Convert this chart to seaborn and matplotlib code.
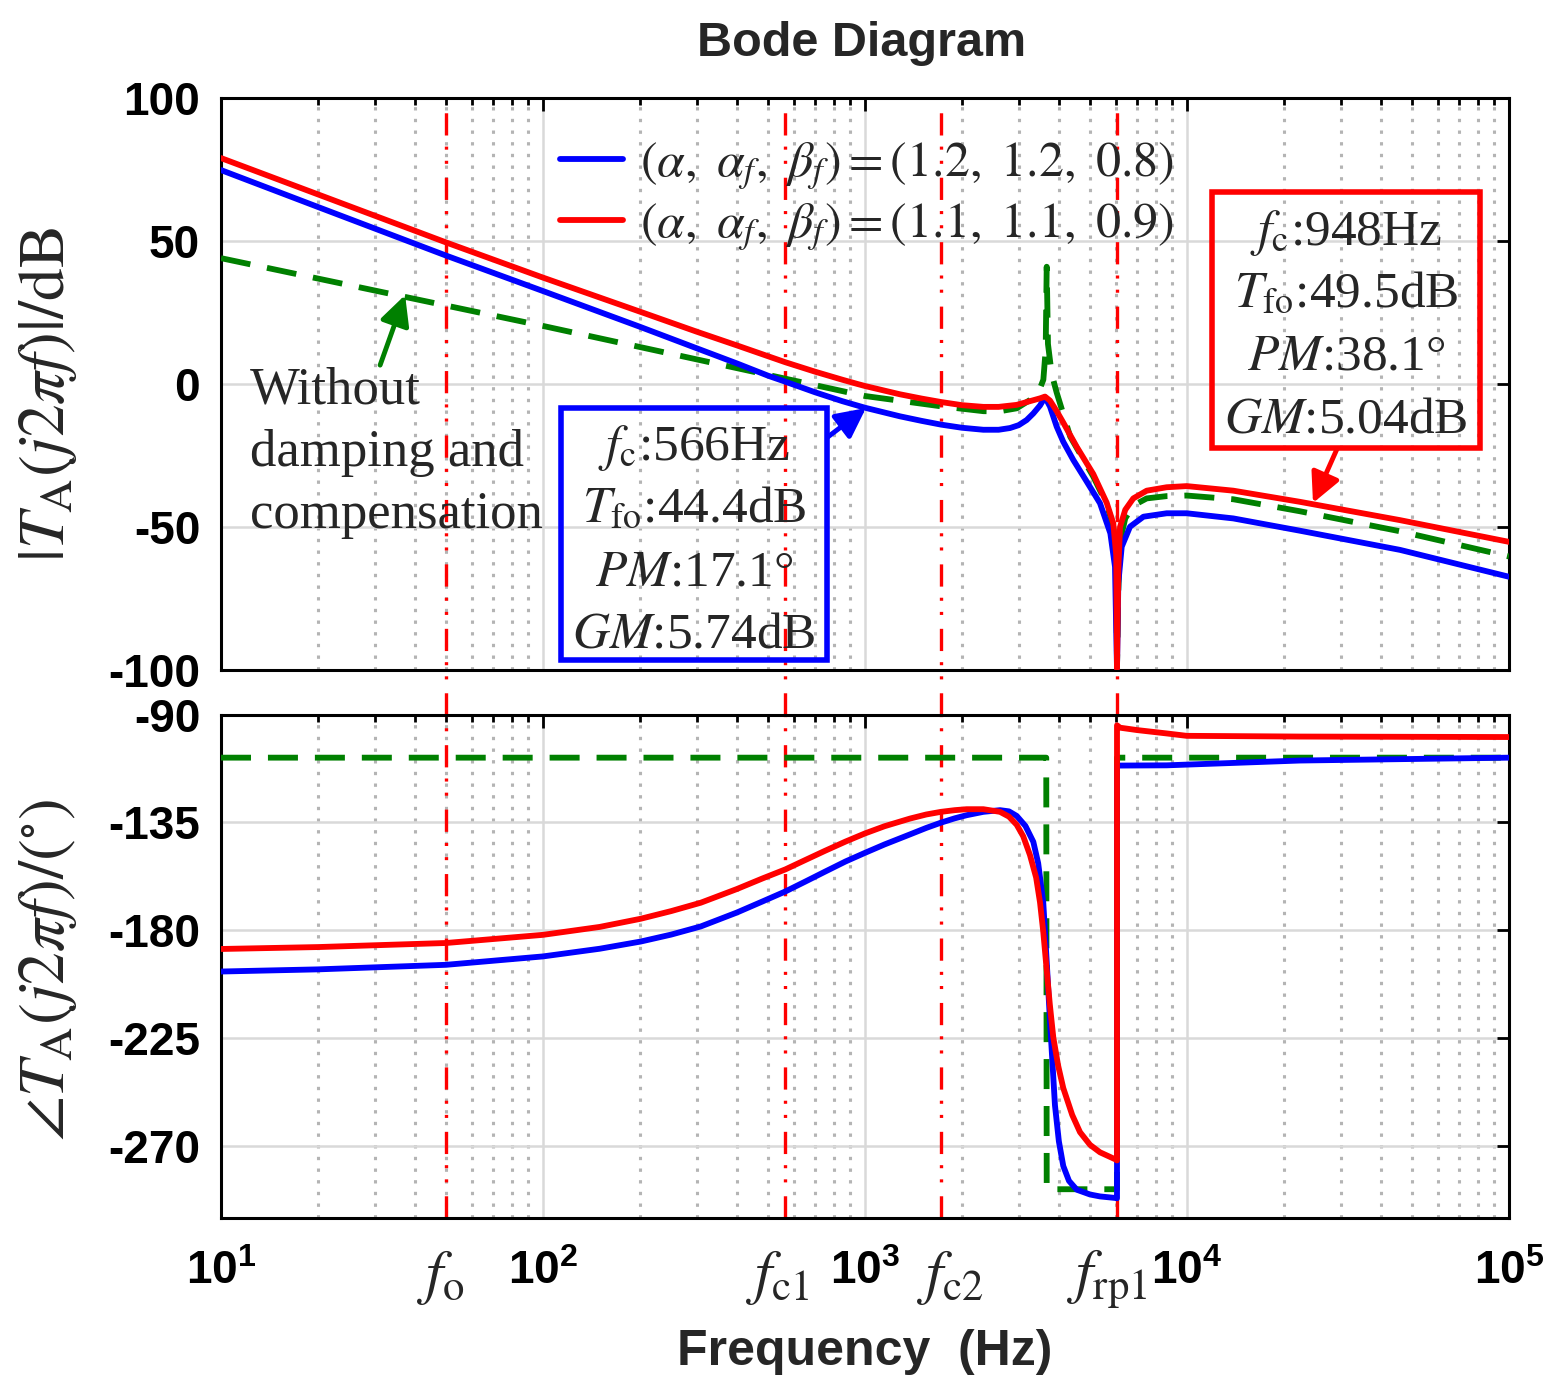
import numpy as np
import pandas as pd
import matplotlib
matplotlib.use("Agg")
import matplotlib.pyplot as plt
import matplotlib.ticker as mticker
from matplotlib.patches import Rectangle
import seaborn as sns

# ── data ────────────────────────────────────────────────────────
# magnitude |T_A(j2πf)| in dB
f_blue_mag = [10, 20, 50, 100, 200, 300, 400, 500, 566, 700, 850, 1000, 1284, 1500,
              1722, 2000, 2331, 2600, 2820, 3000, 3177, 3332, 3496, 3622, 3754, 3938,
              4128, 4437, 4850, 5368, 5780, 5976, 6030, 6062, 6120, 6270, 6653, 7323,
              8648, 9980, 13925, 22430, 45860, 100000]
m_blue = [74.8, 61.9, 44.9, 32.5, 20.0, 12.5, 7.2, 2.9, 0.8, -2.9, -6.0, -8.3, -11.3, -12.9,
          -14.2, -15.3, -16.0, -16.0, -15.4, -14.4, -12.6, -10.3, -7.5, -4.6, -7.9, -14.9,
          -20.2, -26.6, -33.6, -41.7, -52.2, -63.9, -87.0, -99.5, -69.6, -56.9, -49.9, -46.4,
          -45.2, -45.2, -47.0, -51.3, -58.0, -67.4]

f_red_mag = [10, 20, 50, 100, 200, 300, 400, 566, 700, 850, 948, 1000, 1284, 1500,
             1722, 2000, 2331, 2600, 2959, 3253, 3500, 3622, 3754, 3938, 4128, 4546,
             5117, 5630, 5903, 6030, 6062, 6120, 6194, 6430, 6811, 7497, 8648, 9980,
             13925, 22430, 45860, 100000]
m_red = [79.0, 66.3, 49.5, 37.2, 25.3, 18.3, 13.5, 7.6, 4.3, 1.5, 0.0, -0.7, -3.6, -5.1,
         -6.3, -7.4, -8.0, -8.0, -7.3, -6.0, -5.0, -4.4, -5.8, -9.5, -13.5, -22.0,
         -31.5, -41.5, -48.7, -60.0, -99.5, -65.0, -50.0, -44.0, -40.0, -37.3, -36.1, -35.7,
         -37.3, -41.2, -47.6, -55.2]

f_green_mag = [10, 100, 1000, 1722, 2331, 2600, 2959, 3253, 3496, 3580, 3640, 3667, 3700,
               3800, 3938, 4338, 5117, 5630, 5903, 6030, 6062, 6120, 6194, 6430, 6811,
               7497, 8648, 9980, 13925, 22430, 45860, 100000]
m_green = [44.0, 20.3, -4.2, -7.8, -9.5, -9.6, -8.5, -5.6, -1.5, 1.5, 12.0, 41.0, 14.0,
           3.5, -3.0, -18.4, -32.4, -42.0, -50.0, -62.0, -99.0, -72.0, -55.0, -47.0, -42.5,
           -40.0, -39.2, -39.0, -40.3, -44.5, -51.5, -60.3]

# phase ∠T_A(j2πf) in degrees
f_blue_ph = [10, 20, 50, 100, 150, 201, 250, 309, 400, 480, 566, 650, 750, 870, 1000,
             1150, 1380, 1550, 1722, 1900, 2069, 2331, 2626, 2800, 2959, 3150, 3332, 3450,
             3578, 3667, 3754, 3890, 4000, 4128, 4300, 4546, 5000, 5368, 6050, 6062, 6062,
             6194, 8648, 22430, 100000]
p_blue = [-197.2, -196.3, -194.4, -190.9, -187.7, -184.7, -181.8, -178.4, -172.6, -168.0,
          -163.8, -159.8, -155.6, -151.3, -147.7, -144.2, -140.0, -137.3, -135.1, -133.3,
          -132.0, -130.6, -129.9, -130.4, -132.3, -136.5, -143.1, -152.0, -168.5, -193.0,
          -217.8, -253.0, -268.0, -278.3, -284.5, -288.2, -290.2, -291.0, -291.7, -291.8,
          -111.3, -111.3, -111.2, -109.2, -108.0]

f_red_ph = [10, 20, 50, 100, 150, 201, 250, 309, 400, 480, 566, 650, 750, 870, 1000,
            1150, 1380, 1550, 1722, 1900, 2069, 2331, 2626, 2800, 2959, 3100, 3253, 3400,
            3496, 3580, 3667, 3750, 3844, 3980, 4128, 4400, 4653, 5000, 5368, 5700, 6050,
            6062, 6062, 6194, 7000, 8648, 9980, 22430, 100000]
p_red = [-187.8, -187.0, -185.3, -181.9, -178.6, -175.2, -172.0, -168.5, -162.8, -158.4,
         -154.6, -150.8, -146.9, -143.0, -139.6, -136.6, -133.4, -131.7, -130.6, -129.9,
         -129.5, -129.5, -130.6, -132.6, -136.0, -140.8, -148.6, -158.0, -168.4, -181.0,
         -196.6, -211.0, -224.7, -236.5, -245.8, -257.0, -264.2, -269.5, -272.6, -274.2,
         -275.8, -276.0, -94.5, -95.5, -96.5, -97.9, -98.9, -99.2, -99.4]

f_green_ph = [10, 3655, 3667, 6062, 6062, 100000]
p_green = [-108, -108, -288, -288, -108, -108]

# marked frequencies (Hz) and their labels
f_marks = [50, 566, 1722, 6062]
mark_labels = [r"$f_{\rm o}$", r"$f_{\rm c1}$", r"$f_{\rm c2}$", r"$f_{\rm rp1}$"]
mark_label_px = [441, 778, 951, 1107]          # label centres in the reference

legend_labels = [r"$(\alpha,\ \alpha_f,\ \beta_f) = (1.2,\ 1.2,\ 0.8)$",
                 r"$(\alpha,\ \alpha_f,\ \beta_f) = (1.1,\ 1.1,\ 0.9)$"]
box_blue = [r"$f_{\rm c}$:566Hz", r"$T_{\rm fo}$:44.4dB", r"$PM$:17.1°", r"$GM$:5.74dB"]
box_red = [r"$f_{\rm c}$:948Hz", r"$T_{\rm fo}$:49.5dB", r"$PM$:38.1°", r"$GM$:5.04dB"]
note_lines = ["Without", "damping and", "compensation"]

C_BLUE, C_RED, C_GREEN = "#0000ff", "#ff0000", "#008000"

# ── style ─────────────────────────────────────────────────────
sns.set_style("white")
plt.rcParams.update({
    "font.family": ["Liberation Sans", "DejaVu Sans"],
    "font.weight": "normal",
    "mathtext.fontset": "stix",
    "axes.unicode_minus": False,
    "lines.scale_dashes": False,
    "axes.linewidth": 2.2,
    "axes.edgecolor": "black",
})

W, H, DPI = 1564, 1394, 100
fig = plt.figure(figsize=(W / DPI, H / DPI), dpi=DPI)

def fx(x): return x / W
def fy(y): return 1 - y / H

L, R = 221, 1509
ax1 = fig.add_axes([fx(L), fy(670), fx(R) - fx(L), fy(98) - fy(670)])
ax2 = fig.add_axes([fx(L), fy(1218), fx(R) - fx(L), fy(714.5) - fy(1218)])

LW = 4.2
def draw(ax, f, v, color, dashed=False):
    sns.lineplot(x=f, y=v, ax=ax, color=color, linewidth=LW, estimator=None,
                 sort=False, legend=False, zorder=3)
    ln = ax.lines[-1]
    ln.set_linewidth(LW)
    if dashed:
        ln.set_dashes([21.6, 12.2])
    return ln

g1 = draw(ax1, f_green_mag, m_green, C_GREEN, dashed=True)
b1 = draw(ax1, f_blue_mag, m_blue, C_BLUE)
r1 = draw(ax1, f_red_mag, m_red, C_RED)
draw(ax2, f_green_ph, p_green, C_GREEN, dashed=True)
draw(ax2, f_blue_ph, p_blue, C_BLUE)
draw(ax2, f_red_ph, p_red, C_RED)

ddot = (0, (16, 10, 2.2, 8, 2.2, 8))
gap = (714.5 - 670) / (670 - 98)
for f in f_marks:
    ax1.axvline(f, ymin=-gap, ymax=1, color=C_RED, lw=2.4, ls=ddot, zorder=2, clip_on=False)
    ax2.axvline(f, color=C_RED, lw=2.4, ls=ddot, zorder=2)

for ax in (ax1, ax2):
    ax.set_xscale("log")
    ax.set_xlim(10, 1e5)
    ax.xaxis.set_major_locator(mticker.LogLocator(base=10, numticks=10))
    ax.xaxis.set_minor_locator(mticker.LogLocator(base=10, subs=np.arange(2, 10), numticks=20))
    ax.grid(which="major", color="#d9d9d9", lw=1.8, ls="-")
    ax.grid(which="minor", axis="x", color="#b4b4b4", lw=2.2, ls=(0, (2.4, 6.0)))
    ax.set_axisbelow(True)
    ax.tick_params(which="both", direction="in", top=True, right=True, width=2.0,
                   labelsize=33, colors="black")
    ax.tick_params(which="major", length=9)
    ax.tick_params(which="minor", length=5)
    ax.tick_params(axis="y", pad=15)
    ax.set_xlabel("")
    ax.set_ylabel("")
    for s in ax.spines.values():
        s.set_linewidth(2.2)
        s.set_color("black")

ax1.set_ylim(-100, 100)
ax1.set_yticks([-100, -50, 0, 50, 100])
ax1.tick_params(axis="x", labelbottom=False)
ax2.set_ylim(-300, -90)
ax2.set_yticks([-270, -225, -180, -135, -90])
ax2.tick_params(axis="x", pad=23)
for ax in (ax1, ax2):
    for t in ax.get_xticklabels() + ax.get_yticklabels():
        t.set_fontweight("bold")

# axis labels
ax1.set_ylabel(r"$|T_{\rm A}(j2\pi f)|/{\rm dB}$", fontsize=47)
ax1.yaxis.label.set_va("center")
ax1.yaxis.set_label_coords((48 - L) / (R - L), (670 - 394) / (670 - 98))
ax2.set_ylabel(r"$\angle T_{\rm A}(j2\pi f)/(^{\circ})$", fontsize=47)
ax2.yaxis.label.set_va("center")
ax2.yaxis.set_label_coords((48 - L) / (R - L), (1218 - 970) / (1218 - 714.5))

fig.text(fx(865), fy(1352), "Frequency  (Hz)", fontsize=36, fontweight="bold",
         ha="center", va="center")
fig.text(fx(862), fy(43), "Bode Diagram", fontsize=35, fontweight="bold",
         ha="center", va="center")

# marked-frequency labels below the phase axes
for px, lab in zip(mark_label_px, mark_labels):
    ax2.text((px - L) / (R - L), (1218 - 1292) / (1218 - 714.5), lab,
             transform=ax2.transAxes, fontsize=44, ha="center", va="baseline",
             clip_on=False)

# legend
ax1.legend(handles=[b1, r1], labels=legend_labels, loc="upper left",
           bbox_to_anchor=((560 - L) / (R - L), (670 - 140) / (670 - 98)),
           frameon=False, fontsize=36, handlelength=1.25, handletextpad=0.35,
           labelspacing=0.2, borderpad=0, borderaxespad=0)

# annotation boxes
serif = ["Liberation Serif", "DejaVu Serif"]
def box(x0, y0, x1, y1, color, lines, base0):
    fig.patches.append(Rectangle((fx(x0), fy(y1)), fx(x1) - fx(x0), fy(y0) - fy(y1),
                                 transform=fig.transFigure, fill=False, ec=color,
                                 lw=4.0, zorder=5))
    cx = (x0 + x1) / 2
    for i, t in enumerate(lines):
        fig.text(fx(cx), fy(base0 + 62.5 * i), t, fontsize=37,
                 family=serif, ha="center", va="baseline", zorder=6)

box(561, 408, 827, 660, C_BLUE, box_blue, 460)
box(1212, 192, 1480, 448, C_RED, box_red, 245)

for i, t in enumerate(note_lines):
    fig.text(fx(250), fy(404 + 62 * i), t, fontsize=38,
             family=serif, ha="left", va="baseline")

# arrows (tail near text/box, head on the curve)
def arrow(ax, tail, head, color):
    ax.annotate("", xy=head, xytext=tail, xycoords="data", textcoords="data",
                arrowprops=dict(arrowstyle="-|>", color=color, lw=3.5,
                                mutation_scale=45, shrinkA=0, shrinkB=0),
                zorder=6)

arrow(ax1, (767, -18.5), (1007, -8.4), C_BLUE)
arrow(ax1, (29230, -22.7), (24620, -41.6), C_RED)
arrow(ax1, (31.2, 6.6), (37.3, 31.1), C_GREEN)

fig.savefig("out.png", dpi=DPI)
